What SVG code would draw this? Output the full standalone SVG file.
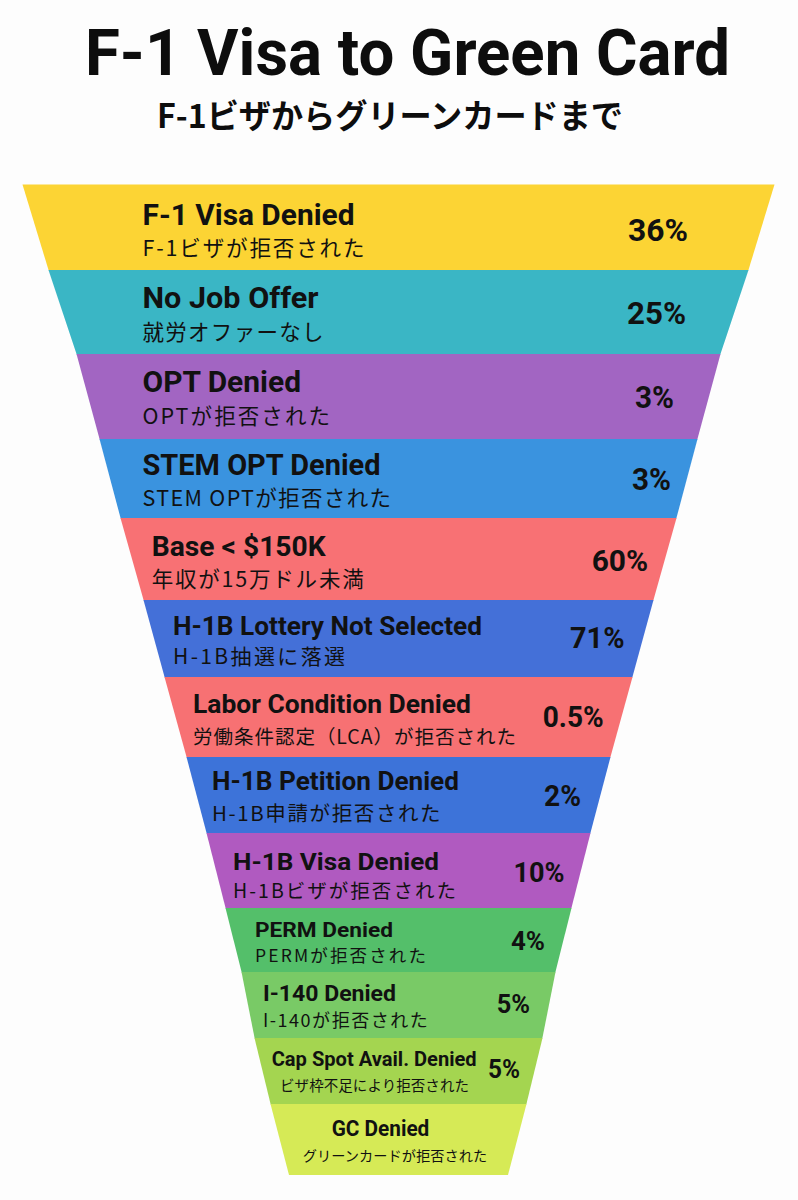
<svg xmlns="http://www.w3.org/2000/svg" width="798" height="1200" viewBox="0 0 798 1200">
<style>
.title{font-family:Roboto,"Liberation Sans",sans-serif;font-weight:700;fill:#0d0d0d}
.sub{font-family:"Noto Sans CJK JP",sans-serif;font-weight:700;fill:#0d0d0d}
.p{font-family:Roboto,"Liberation Sans",sans-serif;font-weight:700;fill:#111}
.s{font-family:"Noto Sans CJK JP","Noto Sans",sans-serif;font-weight:400;fill:#111}
.pc{font-family:Roboto,"Liberation Sans",sans-serif;font-weight:700;fill:#111}
</style>
<rect width="798" height="1200" fill="#FDFDFD"/>
<g id="title">
<text class="title" x="85" y="75" font-size="64" textLength="645" lengthAdjust="spacingAndGlyphs">F-1 Visa to Green Card</text>
<text class="sub" x="157" y="128" font-size="33" textLength="466" lengthAdjust="spacingAndGlyphs">F-1ビザからグリーンカードまで</text>
</g>
<g id="funnel">
<g id="band1">
<polygon points="22.5,184.5 774.5,184.5 748.3,270.6 48.7,270.6" fill="#FCD434"/>
<text class="p" x="142.5" y="225" font-size="30" textLength="212" lengthAdjust="spacingAndGlyphs">F-1 Visa Denied</text>
<text class="s" x="142.5" y="256" font-size="21.5" textLength="222">F-1ビザが拒否された</text>
<text class="pc" x="628" y="241" font-size="31" textLength="60" lengthAdjust="spacingAndGlyphs">36%</text>
</g>
<g id="band2">
<polygon points="48.5,270 748.5,270 720.3,354.6 76.7,354.6" fill="#3AB6C5"/>
<text class="p" x="142.5" y="307.5" font-size="29.5" textLength="176" lengthAdjust="spacingAndGlyphs">No Job Offer</text>
<text class="s" x="142.5" y="339.5" font-size="21.5" textLength="181">就労オファーなし</text>
<text class="pc" x="627" y="324" font-size="31" textLength="59" lengthAdjust="spacingAndGlyphs">25%</text>
</g>
<g id="band3">
<polygon points="76.5,354 720.5,354 697.3,439.6 99.7,439.6" fill="#A265C2"/>
<text class="p" x="142.5" y="392" font-size="30" textLength="158.5" lengthAdjust="spacingAndGlyphs">OPT Denied</text>
<text class="s" x="142.5" y="424" font-size="21.5" textLength="187.5">OPTが拒否された</text>
<text class="pc" x="635" y="408" font-size="31" textLength="39" lengthAdjust="spacingAndGlyphs">3%</text>
</g>
<g id="band4">
<polygon points="99.5,439 697.5,439 676.3,518.6 120.7,518.6" fill="#3A93DF"/>
<text class="p" x="142.5" y="474.5" font-size="30" textLength="238" lengthAdjust="spacingAndGlyphs">STEM OPT Denied</text>
<text class="s" x="142.5" y="506" font-size="21.5" textLength="248.5">STEM OPTが拒否された</text>
<text class="pc" x="632" y="490" font-size="31" textLength="39" lengthAdjust="spacingAndGlyphs">3%</text>
</g>
<g id="band5">
<polygon points="120.5,518 676.5,518 653.3,600.6 143.7,600.6" fill="#F87174"/>
<text class="p" x="151.7" y="555.7" font-size="27" textLength="174" lengthAdjust="spacingAndGlyphs">Base &lt; $150K</text>
<text class="s" x="151.7" y="586.5" font-size="21.5" textLength="212">年収が15万ドル未満</text>
<text class="pc" x="591.7" y="571" font-size="30" textLength="56.5" lengthAdjust="spacingAndGlyphs">60%</text>
</g>
<g id="band6">
<polygon points="143.5,600 653.5,600 632.3,677.6 164.7,677.6" fill="#4470D8"/>
<text class="p" x="173" y="634.5" font-size="25.5" textLength="309" lengthAdjust="spacingAndGlyphs">H-1B Lottery Not Selected</text>
<text class="s" x="173" y="664" font-size="21" textLength="172">H-1B抽選に落選</text>
<text class="pc" x="570" y="648" font-size="30" textLength="54.5" lengthAdjust="spacingAndGlyphs">71%</text>
</g>
<g id="band7">
<polygon points="164.5,677 632.5,677 610.3,757.6 186.7,757.6" fill="#F77173"/>
<text class="p" x="193" y="712.5" font-size="25.5" textLength="278" lengthAdjust="spacingAndGlyphs">Labor Condition Denied</text>
<text class="s" x="193" y="744" font-size="19.5" textLength="323">労働条件認定（LCA）が拒否された</text>
<text class="pc" x="542.7" y="727" font-size="29" textLength="61" lengthAdjust="spacingAndGlyphs">0.5%</text>
</g>
<g id="band8">
<polygon points="186.5,757 610.5,757 590.3,833.6 206.7,833.6" fill="#3D73D9"/>
<text class="p" x="212" y="790" font-size="25" textLength="247" lengthAdjust="spacingAndGlyphs">H-1B Petition Denied</text>
<text class="s" x="212" y="821" font-size="20.5" textLength="228.6">H-1B申請が拒否された</text>
<text class="pc" x="544" y="806" font-size="29" textLength="37" lengthAdjust="spacingAndGlyphs">2%</text>
</g>
<g id="band9">
<polygon points="206.5,833 590.5,833 571.3,908.6 225.7,908.6" fill="#B05AC0"/>
<text class="p" x="233" y="869.5" font-size="24" textLength="206" lengthAdjust="spacingAndGlyphs">H-1B Visa Denied</text>
<text class="s" x="233" y="898" font-size="19.5" textLength="223">H-1Bビザが拒否された</text>
<text class="pc" x="513.5" y="882" font-size="28" textLength="51" lengthAdjust="spacingAndGlyphs">10%</text>
</g>
<g id="band10">
<polygon points="225.5,908 571.5,908 555.3,972.6 241.7,972.6" fill="#54BF6A"/>
<text class="p" x="255" y="937" font-size="20.5" textLength="138" lengthAdjust="spacingAndGlyphs">PERM Denied</text>
<text class="s" x="255" y="962" font-size="17.5" textLength="171">PERMが拒否された</text>
<text class="pc" x="511" y="950" font-size="26" textLength="34" lengthAdjust="spacingAndGlyphs">4%</text>
</g>
<g id="band11">
<polygon points="241.5,972 555.5,972 542.3,1038.6 254.7,1038.6" fill="#79CA66"/>
<text class="p" x="263" y="1001" font-size="21.5" textLength="133" lengthAdjust="spacingAndGlyphs">I-140 Denied</text>
<text class="s" x="263" y="1027" font-size="18" textLength="164.7">I-140が拒否された</text>
<text class="pc" x="496.7" y="1013" font-size="26" textLength="33.3" lengthAdjust="spacingAndGlyphs">5%</text>
</g>
<g id="band12">
<polygon points="254.5,1038 542.5,1038 526.3,1104.6 270.7,1104.6" fill="#A4D550"/>
<text class="p" x="271.7" y="1065.5" font-size="20.5" textLength="205" lengthAdjust="spacingAndGlyphs">Cap Spot Avail. Denied</text>
<text class="s" x="280" y="1091" font-size="14.5" textLength="189">ビザ枠不足により拒否された</text>
<text class="pc" x="488" y="1078" font-size="26" textLength="32" lengthAdjust="spacingAndGlyphs">5%</text>
</g>
<g id="band13">
<polygon points="270.5,1104 526.5,1104 508,1175 289,1175" fill="#D6EA56"/>
<text class="p" x="331.7" y="1135.5" font-size="22.5" textLength="97.6" lengthAdjust="spacingAndGlyphs">GC Denied</text>
<text class="s" x="302.7" y="1160.5" font-size="14.2" textLength="184.6">グリーンカードが拒否された</text>
</g>
</g>
</svg>
